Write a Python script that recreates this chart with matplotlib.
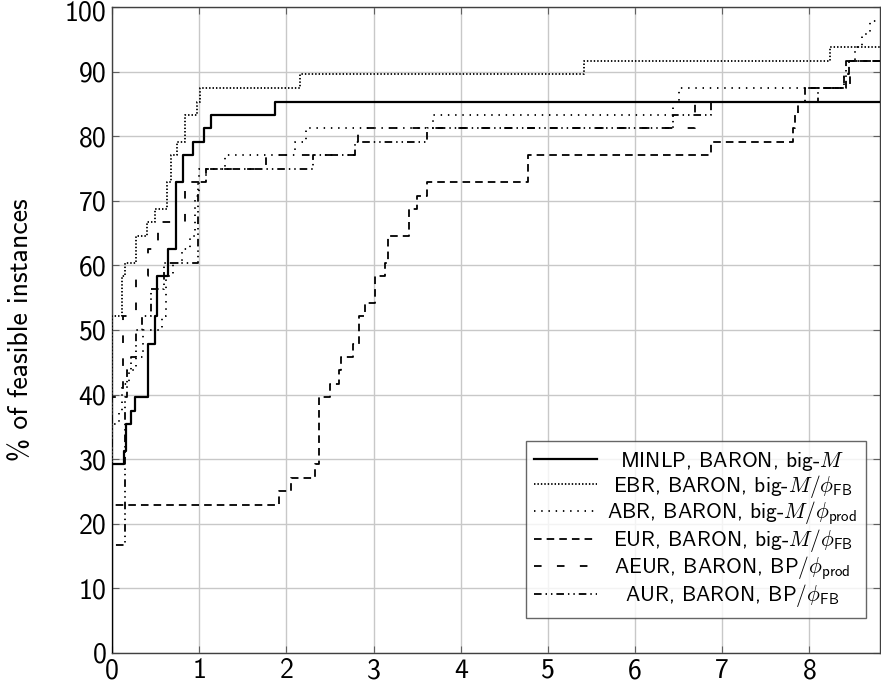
import matplotlib
matplotlib.use("Agg")
import matplotlib.pyplot as plt
from matplotlib.transforms import ScaledTranslation

plt.rcParams['font.family'] = ['cmss10', 'DejaVu Sans']
plt.rcParams['mathtext.fontset'] = 'cm'
plt.rcParams['axes.unicode_minus'] = False

X_MAX = 8.81

# ---- data (step functions, steps-post) ----
minlp_x = [0, 0, 0.14, 0.16, 0.22, 0.26, 0.41, 0.49, 0.52, 0.64, 0.73, 0.81, 0.93, 1.05, 1.14, 1.87]
minlp_y = [0, 29.2, 31.3, 35.4, 37.5, 39.6, 47.9, 52.1, 58.3, 62.5, 72.9, 77.1, 79.2, 81.3, 83.3, 85.4]

ebr_x = [0, 0, 0.11, 0.15, 0.28, 0.40, 0.49, 0.63, 0.68, 0.74, 0.84, 0.97, 1.01, 2.16, 5.42, 8.24]
ebr_y = [0, 52.1, 58.3, 60.4, 64.6, 66.7, 68.8, 72.9, 77.1, 79.2, 83.3, 85.4, 87.5, 89.6, 91.7, 93.8]

abr_x = [0, 0, 0.08, 0.12, 0.20, 0.27, 0.35, 0.57, 0.62, 0.70, 0.80, 0.90, 0.95, 1.00, 1.30, 2.10, 2.23,
         3.68, 6.43, 6.50, 8.40, 8.45, 8.52, 8.60, 8.70]
abr_y = [0, 35.4, 37.5, 41.7, 43.8, 45.8, 50.0, 52.1, 58.3, 60.4, 62.5, 64.6, 70.8, 75.0, 77.1, 79.2, 81.3,
         83.3, 85.4, 87.5, 89.6, 91.7, 93.8, 95.8, 97.9]

eur_x = [0, 0, 1.91, 2.05, 2.33, 2.37, 2.50, 2.60, 2.63, 2.77, 2.83, 2.90, 3.02, 3.13, 3.17, 3.41, 3.50,
         3.61, 4.77, 6.87, 7.81, 7.84, 7.87, 7.95, 8.40, 8.45]
eur_y = [0, 22.9, 25.0, 27.1, 29.2, 39.6, 41.7, 43.8, 45.8, 47.9, 52.1, 54.2, 58.3, 60.4, 64.6, 68.8, 70.8,
         72.9, 77.1, 79.2, 81.3, 83.3, 85.4, 87.5, 89.6, 91.7]

aeur_x = [0, 0, 0.13, 0.27, 0.41, 0.53, 0.84, 1.08, 1.77, 2.82, 6.69, 7.96, 8.47]
aeur_y = [0, 39.6, 52.1, 58.3, 62.5, 66.7, 72.9, 75.0, 77.1, 81.3, 85.4, 87.5, 91.7]

aur_x = [0, 0, 0.15, 0.17, 0.22, 0.28, 0.34, 0.45, 0.60, 0.99, 1.08, 2.31, 2.79, 3.61, 6.43, 6.87, 8.10, 8.42]
aur_y = [0, 16.7, 39.6, 43.8, 45.8, 50.0, 52.1, 56.3, 60.4, 72.9, 75.0, 77.1, 79.2, 81.3, 83.3, 85.4, 87.5, 91.7]

labels = [
    r'MINLP, BARON, big-$M$',
    r'EBR, BARON, big-$M/\phi_{\mathsf{FB}}$',
    r'ABR, BARON, big-$M/\phi_{\mathsf{prod}}$',
    r'EUR, BARON, big-$M/\phi_{\mathsf{FB}}$',
    r'AEUR, BARON, BP$/\phi_{\mathsf{prod}}$',
    r'AUR, BARON, BP$/\phi_{\mathsf{FB}}$',
]

x_ticks = [0, 1, 2, 3, 4, 5, 6, 7, 8]
y_ticks = [0, 10, 20, 30, 40, 50, 60, 70, 80, 90, 100]

series = [
    (minlp_x, minlp_y, dict(lw=1.6, ls='-')),
    (ebr_x, ebr_y, dict(lw=1.3, ls=(0, (0.8, 1.1)))),
    (abr_x, abr_y, dict(lw=1.3, ls=(0, (0.8, 3.2)))),
    (eur_x, eur_y, dict(lw=1.3, ls=(0, (4.2, 2.8)))),
    (aeur_x, aeur_y, dict(lw=1.3, ls=(0, (4.2, 8.5)))),
    (aur_x, aur_y, dict(lw=1.3, ls=(0, (4.2, 2.2, 0.8, 2.2, 0.8, 2.2)))),
]

fig = plt.figure(figsize=(8.81, 6.91), dpi=100)
ax = fig.add_axes([112 / 881, 1 - 652.7 / 691, (880 - 112) / 881, (652.7 - 7.3) / 691])

for (xs, ys, st), lab in zip(series, labels):
    ax.step(list(xs) + [X_MAX], list(ys) + [ys[-1]], where='post', color='black',
            label=lab, zorder=3, **st)

ax.set_xlim(0, X_MAX)
ax.set_ylim(0, 100)
ax.set_xticks(x_ticks)
ax.set_yticks(y_ticks)
ax.grid(True, color='#c8c8c8', lw=1.0, zorder=0)
ax.set_axisbelow(True)
for s in ax.spines.values():
    s.set_color('#404040')
    s.set_linewidth(1.0)
ax.tick_params(direction='in', length=5, width=0.8, color='#606060', labelsize=20,
               top=True, right=True, pad=4)
ax.set_ylabel('% of feasible instances', fontsize=20)
ax.yaxis.set_label_coords(-0.103, 0.5)

leg = ax.legend(loc='lower right', bbox_to_anchor=(0.982, 0.054), borderaxespad=0,
                fontsize=15.5, frameon=True, fancybox=False, edgecolor='#404040',
                handlelength=2.9, labelspacing=0.0, borderpad=0.4, handletextpad=0.5)
leg.get_frame().set_linewidth(1.0)

# centre the legend texts within their column (as in the reference)
fig.canvas.draw()
texts = leg.get_texts()
widths = [t.get_window_extent().width for t in texts]
wmax = max(widths)
for t, w in zip(texts, widths):
    t.set_position(((wmax - w) / 2.0, 0))

# keep the top tick label inside the canvas (nudge it down a few pixels)
top_lab = ax.yaxis.get_major_ticks()[-1].label1
top_lab.set_transform(top_lab.get_transform() + ScaledTranslation(0, -3.5 / 100, fig.dpi_scale_trans))

fig.savefig('out.png', dpi=100)
